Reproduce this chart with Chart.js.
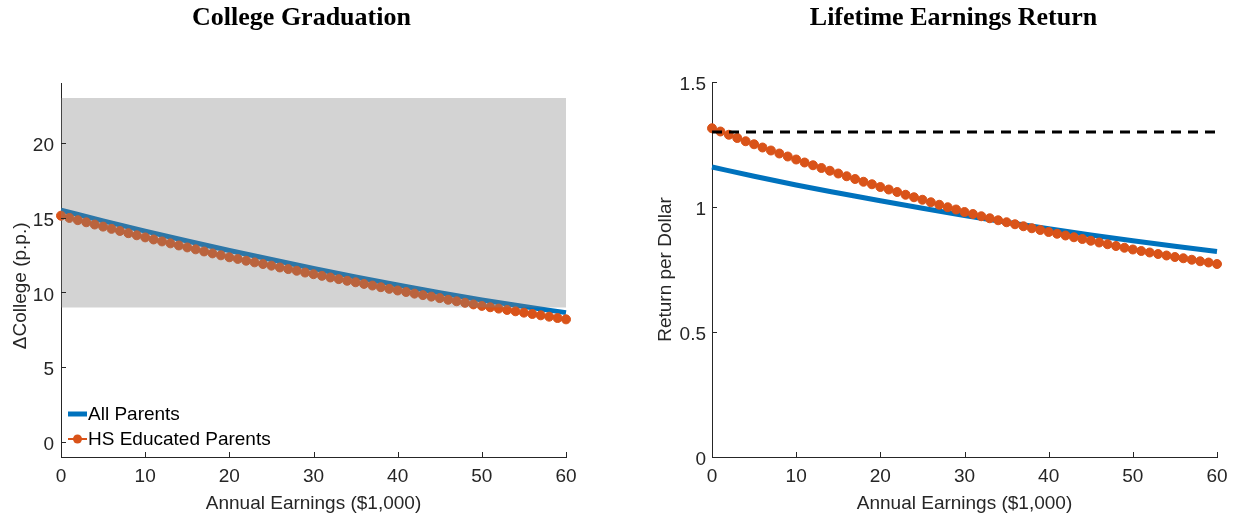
<!DOCTYPE html>
<html><head><meta charset="utf-8">
<script src="https://cdn.jsdelivr.net/npm/chart.js@4.4.0/dist/chart.umd.min.js"></script>
<style>
html,body{margin:0;padding:0;background:#fff;}
#wrap{position:relative;width:1238px;height:521px;overflow:hidden;background:#fff;}
.cv{position:absolute;top:0;height:521px;width:619px;}
.title{position:absolute;top:4px;font-family:"Liberation Serif","Times New Roman",serif;font-weight:bold;font-size:26px;line-height:26px;color:#000;white-space:nowrap;transform:translateX(-50%);}
</style></head>
<body><div id="wrap">
<div class="cv" style="left:0"><canvas id="c1" width="619" height="521"></canvas></div>
<div class="cv" style="left:619px"><canvas id="c2" width="619" height="521"></canvas></div>
<div class="title" style="left:301.5px">College Graduation</div>
<div class="title" style="left:953.5px">Lifetime Earnings Return</div>
</div>
<script>
// ---- data ----
const earnings = [0,1,2,3,4,5,6,7,8,9,10,11,12,13,14,15,16,17,18,19,20,21,22,23,24,25,26,27,28,29,30,31,32,33,34,35,36,37,38,39,40,41,42,43,44,45,46,47,48,49,50,51,52,53,54,55,56,57,58,59,60];
const earningsCoarse = [0,5,10,15,20,25,30,35,40,45,50,55,60];
const xTickValues = [0,10,20,30,40,50,60];

const collegeHS = [15.13,14.98,14.83,14.69,14.54,14.40,14.25,14.11,13.96,13.82,13.68,13.54,13.41,13.28,13.14,13.01,12.88,12.74,12.61,12.48,12.35,12.24,12.12,12.01,11.90,11.79,11.67,11.56,11.45,11.33,11.22,11.11,11.00,10.89,10.78,10.68,10.57,10.46,10.35,10.24,10.13,10.03,9.92,9.82,9.72,9.62,9.51,9.41,9.31,9.20,9.10,9.01,8.92,8.83,8.74,8.65,8.56,8.47,8.38,8.29,8.20];
const collegeAll = [15.5,14.78,14.1,13.44,12.8,12.2,11.6,11.03,10.5,9.98,9.5,9.06,8.65];
const bandX = [0,60];
const bandHigh = [23,23];
const bandLow = 9;
const collegeYTicks = [0,5,10,15,20];

const returnHS = [1.315,1.302,1.289,1.276,1.263,1.251,1.238,1.226,1.214,1.202,1.190,1.178,1.167,1.156,1.145,1.134,1.123,1.112,1.101,1.091,1.080,1.070,1.060,1.049,1.039,1.029,1.019,1.009,0.999,0.990,0.980,0.972,0.963,0.955,0.947,0.939,0.931,0.923,0.915,0.908,0.900,0.893,0.886,0.879,0.872,0.865,0.858,0.851,0.844,0.837,0.830,0.824,0.818,0.812,0.806,0.800,0.795,0.789,0.783,0.778,0.772];
const returnAll = [1.16,1.123,1.088,1.056,1.025,0.995,0.966,0.939,0.913,0.888,0.865,0.843,0.822];
const benchX = [0,60];
const benchY = [1.3,1.3];
const returnYTicks = [0,0.5,1,1.5];

const seriesNames = ['All Parents','HS Educated Parents'];

// ---- styling ----
const BLUE = '#0072BD', ORANGE = '#D95319', AX = '#262626';
const FS = 19;
Chart.defaults.font.family = '"Liberation Sans", Arial, Helvetica, sans-serif';
Chart.defaults.font.size = FS;
Chart.defaults.color = AX;

const pts = (xs, ys) => xs.map((x, i) => ({x, y: ys[i]}));

const inTicks = {
  id: 'inTicks',
  afterDraw(chart) {
    const {ctx, chartArea: a} = chart;
    const xs = chart.scales.x, ys = chart.scales.y;
    ctx.save();
    ctx.strokeStyle = AX; ctx.lineWidth = 1;
    ctx.beginPath();
    xs.ticks.forEach(t => { const p = Math.round(xs.getPixelForValue(t.value)) + 0.5; ctx.moveTo(p, a.bottom); ctx.lineTo(p, a.bottom - 5); });
    ys.ticks.forEach(t => { const p = Math.round(ys.getPixelForValue(t.value)) + 0.5; ctx.moveTo(a.left, p); ctx.lineTo(a.left + 5, p); });
    ctx.stroke();
    ctx.restore();
  }
};

const legendPlugin = {
  id: 'insideLegend',
  afterDraw(chart) {
    const {ctx} = chart;
    ctx.save();
    ctx.font = FS + 'px "Liberation Sans", Arial, sans-serif';
    ctx.fillStyle = '#000';
    ctx.textBaseline = 'middle';
    ctx.strokeStyle = BLUE; ctx.lineWidth = 5;
    ctx.beginPath(); ctx.moveTo(68, 414); ctx.lineTo(87, 414); ctx.stroke();
    ctx.fillText(seriesNames[0], 88, 415);
    ctx.strokeStyle = ORANGE; ctx.lineWidth = 2;
    ctx.beginPath(); ctx.moveTo(68, 439); ctx.lineTo(87, 439); ctx.stroke();
    ctx.fillStyle = ORANGE;
    ctx.beginPath(); ctx.arc(77.5, 439, 4.5, 0, Math.PI * 2); ctx.fill();
    ctx.fillStyle = '#000';
    ctx.fillText(seriesNames[1], 88, 440);
    ctx.restore();
  }
};

const fmt = v => String(v);

function xScale() {
  return {
    type: 'linear', min: 0, max: 60,
    afterBuildTicks: s => { s.ticks = xTickValues.map(v => ({value: v})); },
    afterFit: s => { s.height = 64; },
    grid: {display: false, drawTicks: false},
    border: {display: true, color: AX, width: 1},
    ticks: {padding: 8, color: AX, font: {size: FS}, callback: fmt},
    title: {display: true, text: 'Annual Earnings ($1,000)', color: AX, font: {size: FS}, padding: {top: 0, bottom: 6}}
  };
}
function yScale(min, max, tickVals, width, label, tickPad, titlePad) {
  return {
    type: 'linear', min, max,
    afterBuildTicks: s => { s.ticks = tickVals.map(v => ({value: v})); },
    afterFit: s => { s.width = width; },
    grid: {display: false, drawTicks: false},
    border: {display: true, color: AX, width: 1},
    ticks: {padding: tickPad, labelOffset: 3, color: AX, font: {size: FS}, callback: fmt},
    title: {display: true, text: label, color: AX, font: {size: FS}, padding: {top: titlePad, bottom: 0}}
  };
}

new Chart(document.getElementById('c1'), {
  type: 'line',
  data: {
    datasets: [
      {label: 'band', data: pts(bandX, bandHigh), fill: {value: bandLow}, backgroundColor: 'rgba(128,128,128,0.35)', borderWidth: 0, pointRadius: 0, order: 0},
      {label: seriesNames[1], data: pts(earnings, collegeHS), borderColor: ORANGE, backgroundColor: ORANGE, borderWidth: 2, pointRadius: 4.5, pointBorderWidth: 1, pointBackgroundColor: ORANGE, pointBorderColor: ORANGE, fill: false, order: 1},
      {label: seriesNames[0], data: pts(earningsCoarse, collegeAll), borderColor: BLUE, borderWidth: 5, pointRadius: 0, fill: false, cubicInterpolationMode: 'monotone', order: 2}
    ]
  },
  options: {
    responsive: false, animation: false, devicePixelRatio: 1,
    clip: false,
    layout: {padding: {left: 0, right: 53, top: 83, bottom: 0}},
    plugins: {legend: {display: false}, tooltip: {enabled: false}, title: {display: false}},
    scales: {x: xScale(), y: yScale(-1, 24, collegeYTicks, 61, '\u0394College (p.p.)      ', 7, 9.5)}
  },
  plugins: [inTicks, legendPlugin]
});

new Chart(document.getElementById('c2'), {
  type: 'line',
  data: {
    datasets: [
      {label: 'benchmark', data: pts(benchX, benchY), borderColor: '#000', borderWidth: 3, borderDash: [10, 7], pointRadius: 0, fill: false, order: 0},
      {label: seriesNames[1], data: pts(earnings, returnHS), borderColor: ORANGE, backgroundColor: ORANGE, borderWidth: 2, pointRadius: 4.5, pointBorderWidth: 1, pointBackgroundColor: ORANGE, pointBorderColor: ORANGE, fill: false, order: 1},
      {label: seriesNames[0], data: pts(earningsCoarse, returnAll), borderColor: BLUE, borderWidth: 5, pointRadius: 0, fill: false, cubicInterpolationMode: 'monotone', order: 2}
    ]
  },
  options: {
    responsive: false, animation: false, devicePixelRatio: 1,
    clip: false,
    layout: {padding: {left: 0, right: 21, top: 82, bottom: 0}},
    plugins: {legend: {display: false}, tooltip: {enabled: false}, title: {display: false}},
    scales: {x: xScale(), y: yScale(0, 1.5, returnYTicks, 93, 'Return per Dollar', 6, 35.5)}
  },
  plugins: [inTicks]
});
</script>
</body></html>
